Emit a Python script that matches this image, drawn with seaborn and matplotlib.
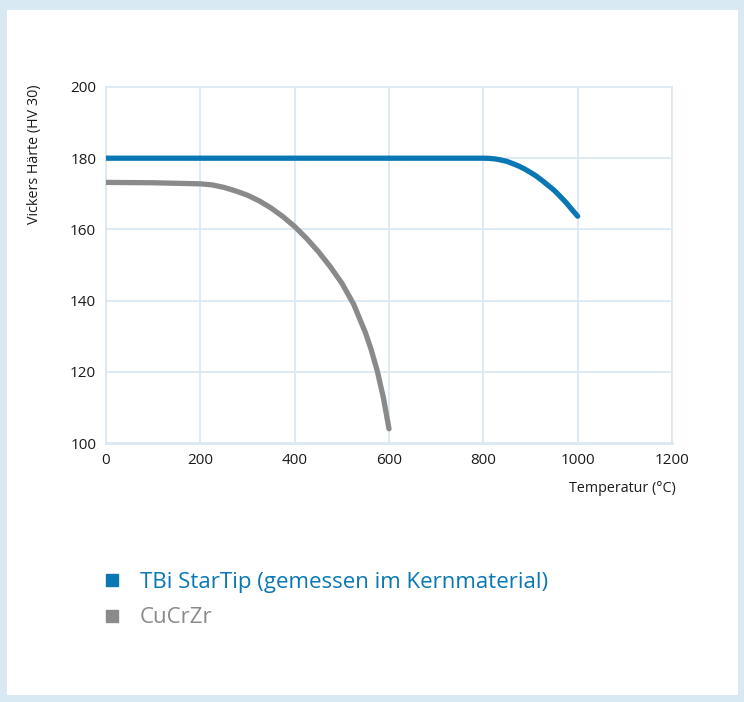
import matplotlib
matplotlib.use("Agg")
import matplotlib.pyplot as plt
from matplotlib.lines import Line2D
from matplotlib.patches import Rectangle
import seaborn as sns
import pandas as pd

# values
tbi_temp = [0, 200, 400, 600, 800, 812, 825, 837, 850, 862, 875, 887, 900,
            912, 925, 937, 950, 962, 975, 987, 1000]
tbi_hv = [180, 180, 180, 180, 180, 179.95, 179.8, 179.5, 179.1, 178.5, 177.8,
          177.0, 176.0, 175.0, 173.7, 172.4, 171.0, 169.4, 167.6, 165.7, 163.7]
cu_temp = [0, 100, 200, 225, 250, 275, 300, 325, 350, 375, 400, 425, 450,
           475, 500, 525, 550, 562, 575, 588, 600]
cu_hv = [173.2, 173.1, 172.8, 172.5, 171.8, 170.8, 169.6, 168.0, 166.0, 163.6,
         160.8, 157.5, 153.8, 149.6, 144.9, 139.0, 131.0, 126.3, 120.3, 112.8, 104.0]

series_names = ["TBi StarTip (gemessen im Kernmaterial)", "CuCrZr"]
series_colors = ["#0a77b5", "#8a8a8a"]

x_ticks = [0, 200, 400, 600, 800, 1000, 1200]
y_ticks = [100, 120, 140, 160, 180, 200]

df = pd.concat([
    pd.DataFrame({"Temperatur": tbi_temp, "HV": tbi_hv, "Material": series_names[0]}),
    pd.DataFrame({"Temperatur": cu_temp, "HV": cu_hv, "Material": series_names[1]}),
])

sns.set_style("white")
plt.rcParams["font.family"] = ["Open Sans", "DejaVu Sans"]

fig = plt.figure(figsize=(7.44, 7.02), dpi=100)
fig.patch.set_facecolor("#d9e9f3")
bg = Rectangle((7 / 744, 7 / 702), 731 / 744, 685 / 702,
               transform=fig.transFigure, facecolor="white",
               edgecolor="none", zorder=-10)
fig.patches.append(bg)

ax = fig.add_axes([106 / 744, 1 - 443 / 702, 566 / 744, 356 / 702])
ax.set_zorder(5)
sns.lineplot(data=df, x="Temperatur", y="HV", hue="Material",
             palette=series_colors, linewidth=3.8, ax=ax, legend=False,
             sort=False, zorder=3)

ax.set_xlim(0, 1200)
ax.set_ylim(100, 200)
ax.set_xticks(x_ticks)
ax.set_yticks(y_ticks)
ax.grid(True, color="#dce9f3", linewidth=1.3)
for s in ax.spines.values():
    s.set_color("#dce9f3")
    s.set_linewidth(1.3)
ax.spines["bottom"].set_linewidth(2)
ax.tick_params(length=0, labelsize=11, colors="#1a1a1a", pad=7)
ax.set_xlabel("")
ax.set_ylabel("")
ax.set_facecolor("white")

fig.text(35 / 744, 1 - 85 / 702, "Vickers Härte (HV 30)", rotation=90,
         ha="center", va="top", fontsize=10.3, color="#1a1a1a", zorder=6)
fig.text(676 / 744, 1 - 489 / 702, "Temperatur (°C)", ha="right",
         va="center", fontsize=10.3, color="#1a1a1a", zorder=6)

handles = [Line2D([], [], marker="s", linestyle="none", markersize=9,
                  markerfacecolor=c, markeredgecolor=c) for c in series_colors]
leg = fig.legend(handles, series_names, loc="upper left",
                 bbox_to_anchor=(81 / 744, 1 - 552 / 702), frameon=False,
                 fontsize=16, handletextpad=0.75, labelspacing=0.65,
                 handlelength=1.0)
leg.set_zorder(6)
for t, c in zip(leg.get_texts(), series_colors):
    t.set_color(c)

fig.savefig("out.png", dpi=100, facecolor=fig.get_facecolor())
